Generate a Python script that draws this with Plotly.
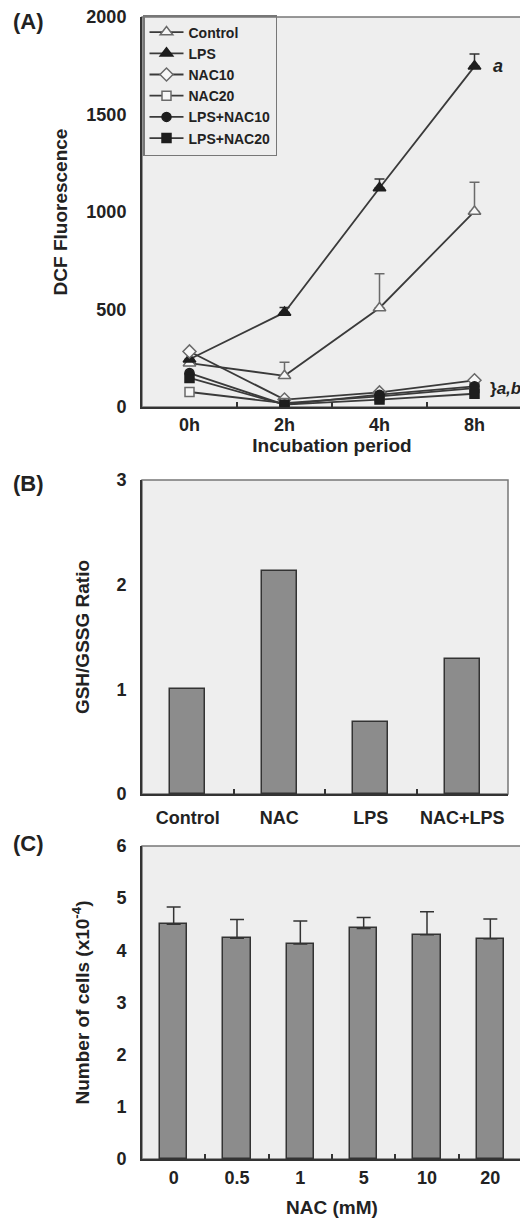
import plotly.graph_objects as go

# ---------------- data ----------------
time_labels = ["0h", "2h", "4h", "8h"]
control_vals = [225, 160, 508, 1003]
control_err = [0, 70, 175, 150]
lps_vals = [245, 485, 1123, 1747]
lps_err = [0, 25, 46, 63]
nac10_vals = [285, 38, 75, 137]
nac20_vals = [77, 20, 55, 97]
lps_nac10_vals = [174, 12, 63, 106]
lps_nac20_vals = [149, 12, 38, 68]

ratio_groups = ["Control", "NAC", "LPS", "NAC+LPS"]
ratio_vals = [1.0, 2.13, 0.69, 1.29]

nac_doses = ["0", "0.5", "1", "5", "10", "20"]
cell_counts = [4.50, 4.23, 4.12, 4.42, 4.30, 4.22]
cell_err = [0.33, 0.36, 0.44, 0.21, 0.44, 0.38]

# ---------------- style ----------------
FONT = "Liberation Sans, Arial, sans-serif"
TXT = "#222222"
LINE = "#333333"
OPEN_EDGE = "#6a6a6a"
BAR_FILL = "#8c8c8c"
PLOT_BG = "#eeeeee"

# page body has an 8px margin; size the figure to fill the rest of the window
OFF = 8
W, H = 528 - OFF, 1220 - OFF
def px_x(v):
    return (v - OFF) / W
def px_y(v):
    return 1 - (v - OFF) / H

fig = go.Figure()

def line_trace(name, y, symbol, filled, size, err=None):
    mcol = "#1e1e1e" if filled else "#f7f7f7"
    medge = "#1e1e1e" if filled else OPEN_EDGE
    kw = {}
    if err is not None:
        kw["error_y"] = dict(type="data", array=err, arrayminus=[0] * len(err),
                             symmetric=False, color=OPEN_EDGE if not filled else LINE,
                             thickness=1.5, width=5)
    return go.Scatter(
        x=time_labels, y=y, name=name, mode="lines+markers",
        line=dict(color="#3a3a3a", width=1.8),
        marker=dict(symbol=symbol, size=size, color=mcol,
                    line=dict(color=medge, width=1.5)),
        xaxis="x", yaxis="y", **kw)

fig.add_trace(line_trace("Control", control_vals, "triangle-up", False, 11, control_err))
fig.add_trace(line_trace("LPS", lps_vals, "triangle-up", True, 11, lps_err))
fig.add_trace(line_trace("NAC10", nac10_vals, "diamond", False, 10))
fig.add_trace(line_trace("NAC20", nac20_vals, "square", False, 9))
fig.add_trace(line_trace("LPS+NAC10", lps_nac10_vals, "circle", True, 9))
fig.add_trace(line_trace("LPS+NAC20", lps_nac20_vals, "square", True, 9))

fig.add_trace(go.Bar(
    x=ratio_groups, y=ratio_vals, width=0.38, showlegend=False,
    marker=dict(color=BAR_FILL, line=dict(color=LINE, width=1.5)),
    xaxis="x2", yaxis="y2"))

fig.add_trace(go.Bar(
    x=nac_doses, y=cell_counts, width=0.43, showlegend=False,
    marker=dict(color=BAR_FILL, line=dict(color=LINE, width=1.5)),
    error_y=dict(type="data", array=cell_err, arrayminus=[0] * len(cell_err),
                 symmetric=False, color=LINE, thickness=1.5, width=7),
    xaxis="x3", yaxis="y3"))

tickfont = dict(family=FONT, size=18, color=TXT, weight="bold")
titlefont = dict(family=FONT, size=19, color=TXT, weight="bold")

def xaxis(domain, anchor, rng, title, lbl_standoff, title_standoff):
    d = dict(domain=domain, anchor=anchor, type="category", range=rng,
             showline=True, linecolor=LINE, linewidth=2, mirror=False,
             ticks="inside", tickson="boundaries", ticklen=5, tickwidth=2,
             tickcolor=LINE, showgrid=False, zeroline=False, tickangle=0,
             tickfont=tickfont, ticklabelstandoff=lbl_standoff,
             ticklabeloverflow="allow",
             automargin=False, fixedrange=True)
    if title:
        d["title"] = dict(text=title, font=titlefont, standoff=title_standoff)
    return d

def yaxis(domain, anchor, rng, dtick, title, standoff):
    return dict(domain=domain, anchor=anchor, range=rng, dtick=dtick,
                showline=True, linecolor=LINE, linewidth=2, mirror=False,
                ticks="", showgrid=False, zeroline=False, tickfont=tickfont,
                ticklabelstandoff=10, ticklabeloverflow="allow",
                automargin=False, fixedrange=True,
                title=dict(text=title, font=titlefont, standoff=standoff))

fig.update_layout(
    width=W, height=H,
    margin=dict(l=0, r=0, t=0, b=0, autoexpand=False),
    paper_bgcolor="white", plot_bgcolor=PLOT_BG,
    font=dict(family=FONT, color=TXT, weight="bold"),
    xaxis=xaxis([px_x(142), px_x(522)], "y", [-0.5, 3.5], "Incubation period", 0, 0),
    xaxis2=xaxis([px_x(142), px_x(508)], "y2", [-0.5, 3.5], None, 6, 0),
    xaxis3=xaxis([px_x(142), px_x(522)], "y3", [-0.5, 5.5], "NAC (mM)", 1, 14),
    yaxis=yaxis([px_y(407), px_y(17)], "x", [0, 2000], 500, "DCF Fluorescence", 14),
    yaxis2=yaxis([px_y(794), px_y(480)], "x2", [0, 3], 1, "GSH/GSSG Ratio", 22),
    yaxis3=yaxis([px_y(1159), px_y(846)], "x3", [0, 6], 1,
                 "Number of cells (x10<sup>-4</sup>)", 22),
    showlegend=True,
    legend=dict(x=px_x(143), y=px_y(15), xanchor="left", yanchor="top",
                bgcolor="rgba(0,0,0,0)", bordercolor="#777777", borderwidth=1.5,
                font=dict(family=FONT, size=14, color=TXT, weight="bold"),
                tracegroupgap=0, itemwidth=34),
    bargap=0,
)

# frame (top/right lighter lines)
for xr, yr in [("x domain", "y domain"), ("x2 domain", "y2 domain"), ("x3 domain", "y3 domain")]:
    fig.add_shape(type="rect", xref=xr, yref=yr, x0=0, x1=1, y0=0, y1=1,
                  line=dict(color="#777777", width=1.5), layer="below")

# panel labels
for lbl, ypx in [("(A)", 22), ("(B)", 483), ("(C)", 843)]:
    fig.add_annotation(text=lbl, xref="paper", yref="paper", x=px_x(11), y=px_y(ypx),
                       xanchor="left", yanchor="middle", showarrow=False,
                       font=dict(family=FONT, size=22, color=TXT, weight="bold"))

# significance marks
fig.add_annotation(text="<i>a</i>", xref="x", yref="y", x=time_labels[3], y=lps_vals[3],
                   xshift=23, showarrow=False,
                   font=dict(family=FONT, size=18, color=TXT, weight="bold"))
fig.add_annotation(text="}<i>a,b</i>", xref="x", yref="y", x=time_labels[3], y=nac20_vals[3],
                   xshift=31, showarrow=False,
                   font=dict(family=FONT, size=17, color=TXT, weight="bold"))

fig.write_html("out.html")
